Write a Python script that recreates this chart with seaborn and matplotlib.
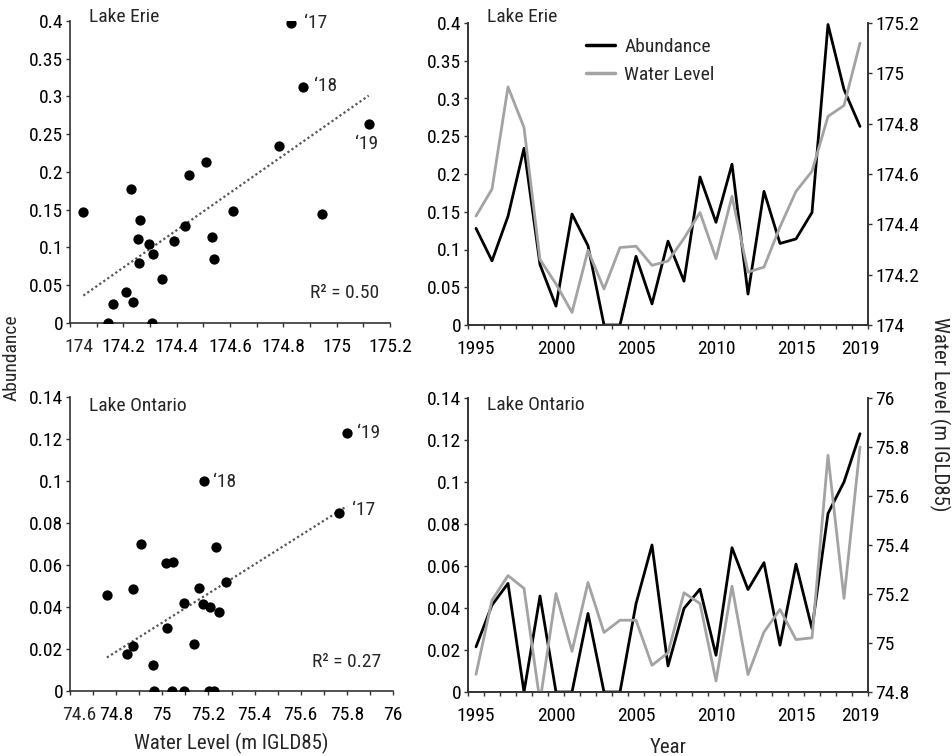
import numpy as np
import pandas as pd
import matplotlib
matplotlib.use('Agg')
import matplotlib.pyplot as plt
from matplotlib.ticker import MultipleLocator, FixedLocator, FuncFormatter
from matplotlib.lines import Line2D
import seaborn as sns

# data
years = [1995, 1996, 1997, 1998, 1999, 2000, 2001, 2002, 2003, 2004, 2005, 2006, 2007,
         2008, 2009, 2010, 2011, 2012, 2013, 2014, 2015, 2016, 2017, 2018, 2019]

erie_abund = [0.128, 0.085, 0.144, 0.234, 0.080, 0.025, 0.147, 0.105, 0.0, 0.0, 0.091, 0.028, 0.111,
              0.058, 0.196, 0.136, 0.213, 0.041, 0.177, 0.108, 0.114, 0.149, 0.398, 0.312, 0.263]
erie_level = [174.433, 174.54, 174.946, 174.785, 174.26, 174.163, 174.05, 174.297, 174.143, 174.308,
              174.313, 174.237, 174.254, 174.344, 174.447, 174.264, 174.511, 174.21, 174.23, 174.39,
              174.531, 174.611, 174.829, 174.872, 175.12]

ont_abund = [0.0215, 0.0414, 0.0517, 0.0, 0.0457, 0.0, 0.0, 0.0374, 0.0, 0.0, 0.042, 0.070, 0.0124,
             0.0398, 0.049, 0.0175, 0.0687, 0.0488, 0.0616, 0.0223, 0.0609, 0.0302, 0.085, 0.100, 0.123]
ont_level = [74.872, 75.175, 75.275, 75.223, 74.76, 75.202, 74.966, 75.247, 75.043, 75.093, 75.093,
             74.909, 74.96, 75.205, 75.161, 74.845, 75.232, 74.871, 75.045, 75.137, 75.014, 75.021,
             75.766, 75.182, 75.80]

year_ticks = [1995, 2000, 2005, 2010, 2015, 2019]
erie_r2 = 'R\u00b2 = 0.50'
ont_r2 = 'R\u00b2 = 0.27'

erie = pd.DataFrame({'Year': years, 'Abundance': erie_abund, 'Level': erie_level})
ont = pd.DataFrame({'Year': years, 'Abundance': ont_abund, 'Level': ont_level})

FS = 14

sns.set_style('ticks')
plt.rcParams['font.family'] = ['Roboto Condensed', 'Liberation Sans Narrow', 'DejaVu Sans']
plt.rcParams['font.stretch'] = 'condensed'
plt.rcParams['font.size'] = FS
plt.rcParams['axes.edgecolor'] = '#333333'
plt.rcParams['axes.linewidth'] = 1.2
plt.rcParams['xtick.color'] = '#333333'
plt.rcParams['ytick.color'] = '#333333'
plt.rcParams['xtick.labelcolor'] = 'black'
plt.rcParams['ytick.labelcolor'] = 'black'

fig = plt.figure(figsize=(9.52, 7.56), dpi=100)
W, H = 952, 756


def box(x0, x1, ytop, ybot):
    return [x0 / W, 1 - ybot / H, (x1 - x0) / W, (ybot - ytop) / H]


fmt = FuncFormatter(lambda v, p: '%g' % round(v, 3))


def scatter_panel(ax, df, xlim, ylim, ystep, title, r2, labels, ty):
    sns.regplot(x='Level', y='Abundance', data=df, ax=ax, ci=None,
                scatter_kws=dict(color='black', s=55, linewidths=0, alpha=1, zorder=3),
                line_kws=dict(color='#555555', ls=(0, (1, 1.2)), lw=1.6))
    ax.set_xlim(*xlim)
    ax.set_ylim(*ylim)
    ax.xaxis.set_major_locator(MultipleLocator(0.2))
    ax.xaxis.set_minor_locator(MultipleLocator(0.1))
    ax.yaxis.set_major_locator(MultipleLocator(ystep))
    # the first x label is drawn a bit right of its tick (as in the original)
    x0 = xlim[0]
    ax.xaxis.set_major_formatter(FuncFormatter(
        lambda v, p: '' if abs(v - x0) < 1e-6 else '%g' % round(v, 3)))
    ax.yaxis.set_major_formatter(fmt)
    ax.tick_params(axis='both', which='both', direction='out', length=3, width=1, pad=2)
    ax.tick_params(axis='x', pad=8)
    ax.annotate('%g' % x0, xy=(0, 0), xycoords='axes fraction', xytext=(6.5, -11),
                textcoords='offset points', ha='center', va='top', fontsize=FS)
    for side in ['top', 'right']:
        ax.spines[side].set_visible(False)
    ax.set_xlabel('')
    ax.set_ylabel('')
    ax.text(0.06, ty, title, transform=ax.transAxes, ha='left', va='center', fontsize=FS)
    ax.text(0.75, 0.10, r2, transform=ax.transAxes, ha='left', va='center', fontsize=FS)
    for yr, off, ha in labels:
        i = years.index(yr)
        ax.annotate('\u2018' + str(yr)[2:], (df['Level'][i], df['Abundance'][i]),
                    xytext=off, textcoords='offset points', ha=ha, va='center', fontsize=FS)


def line_panel(ax, df, ylim, ystep, rlim, title, ty, legend=False):
    sns.lineplot(x='Year', y='Abundance', data=df, ax=ax, color='black', lw=2)
    ax2 = ax.twinx()
    sns.lineplot(x='Year', y='Level', data=df, ax=ax2, color='#a3a3a3', lw=2)
    ax.set_xlim(1994.5, 2019.5)
    ax.set_ylim(*ylim)
    ax2.set_ylim(*rlim)
    ax.yaxis.set_major_locator(MultipleLocator(ystep))
    ax2.yaxis.set_major_locator(MultipleLocator(0.2))
    ax.yaxis.set_major_formatter(fmt)
    ax2.yaxis.set_major_formatter(fmt)
    ax.xaxis.set_major_locator(FixedLocator(year_ticks))
    ax.xaxis.set_minor_locator(FixedLocator([y + 0.5 for y in [1994] + years]))
    ax.tick_params(axis='x', which='major', length=0, pad=11)
    ax.tick_params(axis='x', which='minor', length=3, width=1, direction='out')
    ax.tick_params(axis='y', direction='out', length=3, width=1, pad=2)
    ax2.tick_params(axis='y', direction='out', length=3, width=1, pad=2)
    for a in [ax, ax2]:
        a.spines['top'].set_visible(False)
    ax.set_xlabel('')
    ax.set_ylabel('')
    ax2.set_ylabel('')
    ax.text(0.0475, ty, title, transform=ax.transAxes, ha='left', va='center', fontsize=FS)
    if legend:
        handles = [Line2D([], [], color='black', lw=2.5), Line2D([], [], color='#a3a3a3', lw=2.5)]
        ax.legend(handles, ['Abundance', 'Water Level'], loc='upper left',
                  bbox_to_anchor=(0.252, 1.008), frameon=False, fontsize=FS,
                  handlelength=1.5, handletextpad=0.45, labelspacing=0.5)
    return ax2


ax1 = fig.add_axes(box(70, 390, 21, 323))
scatter_panel(ax1, erie, (174, 175.2), (0, 0.4), 0.05, 'Lake Erie', erie_r2,
              [(2017, (9, 0), 'left'), (2018, (8, 1), 'left'), (2019, (-1.5, -14), 'center')], 1.013)

ax3 = fig.add_axes(box(70, 393, 397, 691))
scatter_panel(ax3, ont, (74.6, 76), (0, 0.14), 0.02, 'Lake Ontario', ont_r2,
              [(2017, (9, 1.5), 'left'), (2018, (6.5, -1), 'left'), (2019, (7, 0), 'left')], 0.969)
ax3.set_xlabel('Water Level (m IGLD85)', fontsize=FS + 1, labelpad=6)

ax2 = fig.add_axes(box(468, 868, 23, 325))
line_panel(ax2, erie, (0, 0.4), 0.05, (174, 175.2), 'Lake Erie', 1.02, legend=True)

ax4 = fig.add_axes(box(468, 868, 398, 692))
line_panel(ax4, ont, (0, 0.14), 0.02, (74.8, 76), 'Lake Ontario', 0.976)
ax4.set_xlabel('Year', fontsize=FS + 1, labelpad=9)

fig.text(12 / W, 1 - 358 / H, 'Abundance', rotation=90, ha='center', va='center', fontsize=FS)
fig.text(940 / W, 1 - 414 / H, 'Water Level (m IGLD85)', rotation=-90, ha='center', va='center',
         fontsize=FS + 1)

fig.savefig('out.png', dpi=100)
